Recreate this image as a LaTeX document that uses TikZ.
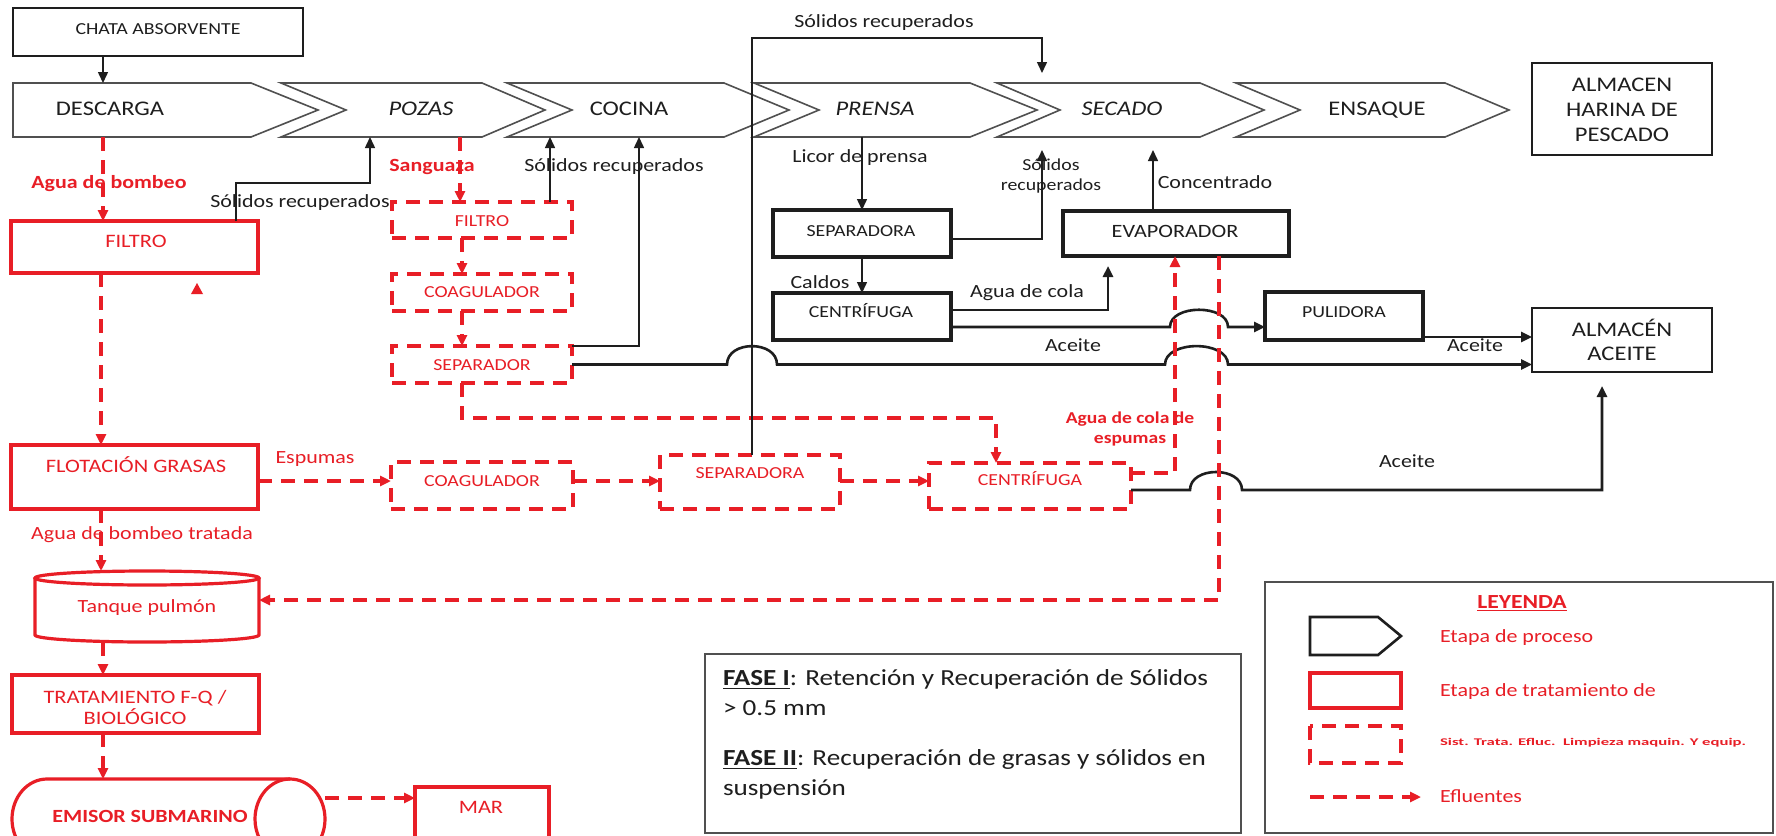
\documentclass[tikz,border=0pt]{standalone}
\usepackage{fontspec}
\usepackage{graphicx}
\setmainfont{Carlito}[FakeStretch=1.18]
\usetikzlibrary{arrows.meta,fit}
\definecolor{rd}{RGB}{232,30,38}
\definecolor{txt}{RGB}{30,30,30}
\definecolor{gr}{RGB}{80,80,80}
\newcommand\chevshape[4]{\draw[chev] (#1,83) -- (#3,83) -- (#4,110) -- (#3,137) -- (#1,137) -- (#2,110) -- cycle;}
\begin{document}
\begin{tikzpicture}[x=0.5pt,y=-0.5pt,
 every node/.style={inner sep=0pt,outer sep=0pt},
 arr/.style={-{Triangle[length=5.5pt,width=5pt]}},
 conn/.style={draw=txt,line width=0.75pt},
 oil/.style={draw=txt,line width=1.3pt},
 eff/.style={draw=rd,line width=1.7pt,dash pattern=on 7pt off 4.5pt},
 pbox/.style={draw=txt,line width=1.6pt},
 tbox/.style={draw=rd,line width=1.6pt},
 dbox/.style={draw=rd,line width=1.7pt,dash pattern=on 7pt off 4.5pt},
 sbox/.style={draw=txt,line width=0.9pt},
 chev/.style={draw=gr,line width=0.8pt},
 tx/.style={text=txt,text height=0.7em,text depth=0.2em},
 chevtxt/.style={tx,font=\fontsize{10.4}{12.5}\selectfont},
 boxtxt/.style={tx,font=\fontsize{8.4}{10}\selectfont},
 lbl/.style={tx,font=\fontsize{9.3}{11}\selectfont},
 rlbl/.style={lbl,text=rd},
 rbold/.style={tx,text=rd,font=\fontsize{9.3}{11}\selectfont\bfseries},
 rboxtxt/.style={tx,text=rd,font=\fontsize{9.5}{11.5}\selectfont},
 dboxtxt/.style={tx,text=rd,font=\fontsize{8.4}{10}\selectfont},
]
\useasboundingbox (0,0) rectangle (1776,835);
\fill[white] (0,0) rectangle (1776,835);
\begin{scope}
\clip (0,0) rectangle (1776,835);

% ---------- top row ----------
\node[fit={(13,8)(303,56)},sbox] (chata) {};
\node[boxtxt] (tchata) at (158,29) {CHATA ABSORVENTE};

\chevshape{13}{13}{251}{318}
\chevshape{281}{346}{482}{545}
\chevshape{507}{572}{724}{789}
\chevshape{754}{819}{970}{1037}
\chevshape{997}{1060}{1200}{1264}
\chevshape{1236}{1300}{1445}{1509}
\node[fit={(13,83)(318,137)}] (descarga) {};
\node[fit={(281,83)(545,137)}] (pozas) {};
\node[fit={(507,83)(789,137)}] (cocina) {};
\node[fit={(754,83)(1037,137)}] (prensa) {};
\node[fit={(997,83)(1264,137)}] (secado) {};
\node[fit={(1236,83)(1509,137)}] (ensaque) {};
\node[chevtxt] (tdesc) at (110,110) {DESCARGA};
\node[chevtxt] (tpoz) at (421,110) {\itshape POZAS};
\node[chevtxt] (tcoc) at (629,110) {COCINA};
\node[chevtxt] (tpren) at (875,110) {\itshape PRENSA};
\node[chevtxt] (tsec) at (1122,110) {\itshape SECADO};
\node[chevtxt] (tens) at (1377,110) {ENSAQUE};

\node[fit={(1532,63)(1712,155)},sbox] (harina) {};
\node[text=txt,align=center,font=\fontsize{10.4}{12.5}\selectfont] (tharina) at (1622,110) {ALMACEN\\HARINA DE\\PESCADO};

% ---------- red solid boxes ----------
\node[fit={(11,221)(258,273)},tbox] (filtroA) {};
\node[rboxtxt] (tfiltroA) at (136,242) {FILTRO};
\node[fit={(11,445)(258,509)},tbox] (flot) {};
\node[rboxtxt] (tflot) at (136,467) {FLOTACIÓN GRASAS};
\node[fit={(12,675)(259,733)},tbox] (trat) {};
\node[text=rd,align=center,font=\fontsize{9.5}{10.5}\selectfont] (ttrat) at (135,707) {TRATAMIENTO F-Q /\\BIOLÓGICO};
\node[fit={(415,787)(549,860)},tbox] (mar) {};
\node[rboxtxt] (tmar) at (481,808) {MAR};

% tanque
\node[fit={(35,571)(259,642)}] (tanque) {};
\draw[tbox] (147,578) ellipse [x radius=112,y radius=7];
\draw[tbox] (35,578) -- (35,635) arc[start angle=180,end angle=0,x radius=112,y radius=7] -- (259,578);
\node[rlbl] (ttanque) at (147,607) {Tanque pulmón};

% emisor
\node[fit={(12,779)(325,859)}] (emisor) {};
\draw[tbox] (47,779) arc[start angle=270,end angle=90,x radius=35,y radius=40] -- (290,859) arc[start angle=90,end angle=-90,x radius=35,y radius=40] -- cycle;
\draw[tbox] (290,779) arc[start angle=270,end angle=150,x radius=35,y radius=40];
\node[rbold] (temisor) at (150,817) {EMISOR SUBMARINO};

\fill[rd] (191,294) -- (203,294) -- (197,283) -- cycle;

% ---------- red dashed boxes ----------
\node[fit={(392,202)(572,238)},dbox] (filtroB) {};
\node[dboxtxt] (tfiltroB) at (482,221) {FILTRO};
\node[fit={(392,274)(572,311)},dbox] (coagB) {};
\node[dboxtxt] (tcoagB) at (482,292) {COAGULADOR};
\node[fit={(392,346)(572,383)},dbox] (sepB) {};
\node[dboxtxt] (tsepB) at (482,365) {SEPARADOR};
\node[fit={(391,462)(573,509)},dbox] (coagC) {};
\node[dboxtxt] (tcoagC) at (482,481) {COAGULADOR};
\node[fit={(660,455)(840,509)},dbox] (sepC) {};
\node[dboxtxt] (tsepC) at (750,473) {SEPARADORA};
\node[fit={(929,463)(1131,509)},dbox] (centC) {};
\node[dboxtxt] (tcentC) at (1030,480) {CENTRÍFUGA};

% ---------- black process boxes ----------
\node[fit={(773,210)(951,257)},pbox] (sepP) {};
\node[boxtxt] (tsepP) at (861,231) {SEPARADORA};
\node[fit={(773,293)(951,340)},pbox] (centP) {};
\node[boxtxt] (tcentP) at (861,312) {CENTRÍFUGA};
\node[fit={(1063,211)(1289,256)},pbox] (evap) {};
\node[tx,font=\fontsize{9.4}{11}\selectfont] (tevap) at (1175,232) {EVAPORADOR};
\node[fit={(1265,292)(1423,340)},pbox] (pul) {};
\node[boxtxt] (tpul) at (1344,312) {PULIDORA};
\node[fit={(1532,308)(1712,372)},sbox] (aceite) {};
\node[text=txt,align=center,font=\fontsize{10.4}{12}\selectfont] (taceite) at (1622,340) {ALMACÉN\\ACEITE};

% ---------- connectors ----------
\draw[conn,arr] (103,0 |- chata.south) -- (103,0 |- descarga.north);
\draw[eff,arr] (103,0 |- descarga.south) -- (103,0 |- filtroA.north);
\node[rbold] (lab1) at (109,183) {Agua de bombeo};
\draw[conn,arr] (236,0 |- filtroA.north) -- (236,183) -- (370,183) -- (370,0 |- pozas.south);
\node[lbl] (lab2) at (300,202) {Sólidos recuperados};
\draw[eff,arr] (460,0 |- pozas.south) -- (460,0 |- filtroB.north);
\node[rbold] (lab3) at (432,166) {Sanguaza};
\draw[conn,arr] (550,0 |- filtroB.north) -- (550,0 |- cocina.south);
\node[lbl] (lab4) at (614,166) {Sólidos recuperados};
\draw[eff,arr] (462,0 |- filtroB.south) -- (462,0 |- coagB.north);
\draw[eff,arr] (462,0 |- coagB.south) -- (462,0 |- sepB.north);
\draw[conn,arr] (sepB.north east) -- (639,346) -- (639,0 |- cocina.south);
\draw[oil,arr] (sepB.east) -- (727,364.5) .. controls (727,340) and (777,340) .. (777,364.5) -- (1165,364.5) .. controls (1165,340) and (1228,340) .. (1228,364.5) -- (aceite.west |- sepB.east);
\draw[eff,arr] (462,0 |- sepB.south) -- (462,418) -- (996,418) -- (996,0 |- centC.north);
\draw[eff,arr] (101,0 |- filtroA.south) -- (101,0 |- flot.north);
\draw[eff,arr] (flot.east |- 0,481) -- (coagC.west |- 0,481);
\node[rlbl] (lab5) at (315,458) {Espumas};
\draw[eff,arr] (coagC.east |- 0,481) -- (sepC.west |- 0,481);
\draw[eff,arr] (sepC.east |- 0,481) -- (centC.west |- 0,481);
\draw[conn,arr,shorten >=5pt] (752,0 |- sepC.north) -- (752,38) -- (1042,38) -- (1042,0 |- secado.north);
\node[lbl] (lab6) at (884,22) {Sólidos recuperados};
\draw[conn,arr] (862,0 |- prensa.south) -- (862,0 |- sepP.north);
\node[lbl] (lab7) at (860,157) {Licor de prensa};
\draw[conn,arr,shorten >=6.5pt] (sepP.east |- 0,239) -- (1042,239) -- (1042,0 |- secado.south);
\node[text=txt,align=center,font=\fontsize{8.4}{10}\selectfont] (lab8) at (1051,176) {Sólidos\\recuperados};
\draw[conn,arr] (862,0 |- sepP.south) -- (862,0 |- centP.north);
\node[lbl] (lab9) at (820,283) {Caldos};
\draw[oil,arr,shorten >=5pt] (centP.east |- 0,310) -- (1108,310) -- (1108,0 |- evap.south);
\node[lbl] (lab10) at (1027,292) {Agua de cola};
\draw[oil,arr] (centP.east |- 0,327) -- (1170,327) .. controls (1170,304) and (1228,304) .. (1228,327) -- (pul.west |- 0,327);
\draw[conn,arr,shorten >=6.5pt] (1153,0 |- evap.north) -- (1153,0 |- secado.south);
\node[lbl] (lab11) at (1215,183) {Concentrado};
\draw[oil,arr] (pul.east |- 0,337) -- (aceite.west |- 0,337);
\node[lbl] (lab12) at (1475,346) {Aceite};
\node[lbl] (lab13) at (1073,346) {Aceite};
\draw[oil,arr,shorten >=7pt] (centC.east |- 0,490) -- (1190,490) .. controls (1190,466) and (1242,466) .. (1242,490) -- (1602,490) -- (1602,0 |- aceite.south);
\node[lbl] (lab14) at (1407,462) {Aceite};
\draw[eff,arr] (centC.east |- 0,473) -- (1175,473) -- (1175,0 |- evap.south);
\node[text=rd,align=center,font=\fontsize{8.3}{10}\selectfont\bfseries] (lab15) at (1130,429) {Agua de cola de\\espumas};
\draw[eff,arr] (1219,0 |- evap.south) -- (1219,600) -- (tanque.east |- 0,600);
\draw[eff,arr] (101,0 |- flot.south) -- (101,0 |- tanque.north);
\node[rlbl] (lab16) at (142,534) {Agua de bombeo tratada};
\draw[eff,arr] (103,0 |- tanque.south) -- (103,0 |- trat.north);
\draw[eff,arr] (103,0 |- trat.south) -- (103,0 |- emisor.north);
\draw[eff,arr] (emisor.east |- 0,798) -- (mar.west |- 0,798);

% ---------- FASE box ----------
\node[fit={(705,654)(1241,833)},draw=gr,line width=0.8pt] (fase) {};
\node[anchor=west,align=left,text=txt,font=\fontsize{11.5}{15}\selectfont] (f1) at (723,693) {\underline{\textbf{FASE I}}: Retención y Recuperación de Sólidos\\> 0.5 mm};
\node[anchor=west,align=left,text=txt,font=\fontsize{11.5}{15}\selectfont] (f2) at (723,774) {\underline{\textbf{FASE II}}: Recuperación de grasas y sólidos en\\suspensión};

% ---------- legend ----------
\node[fit={(1265,582)(1773,833)},draw=gr,line width=0.8pt] (leg) {};
\node[tx,text=rd,font=\fontsize{10}{12}\selectfont\bfseries] (legT) at (1522,603) {\underline{LEYENDA}};
\draw[draw=txt,line width=1.3pt] (1310,617) -- (1378,617) -- (1401,636) -- (1378,655) -- (1310,655) -- cycle;
\draw[tbox] (1310,673) rectangle (1401,708);
\draw[dbox] (1310,726) rectangle (1401,763);
\draw[eff,arr] (1310,797) -- (1421,797);
\node[rlbl,anchor=west] (l1) at (1440,637) {Etapa de proceso};
\node[rlbl,anchor=west] (l2) at (1440,691) {Etapa de tratamiento de};
\node[anchor=west,text=rd] (l3) at (1440,743) {\resizebox{153pt}{3.6pt}{\bfseries Sist. Trata. Efluc.\ \ Limpieza maquin. Y equip.}};
\node[rlbl,anchor=west] (l4) at (1440,797) {Efluentes};
\end{scope}
\end{tikzpicture}
\end{document}
